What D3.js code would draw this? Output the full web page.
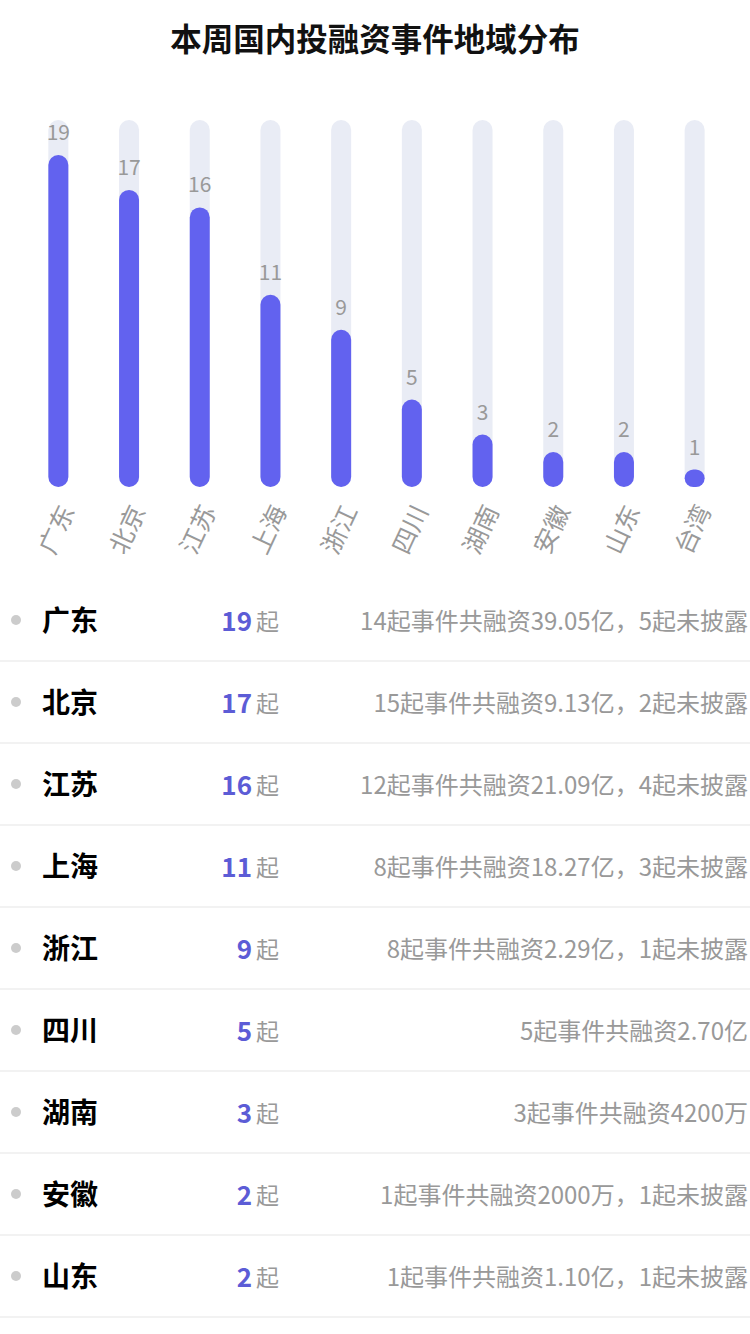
<!DOCTYPE html>
<html>
<head>
<meta charset="utf-8">
<script src="https://cdn.jsdelivr.net/npm/d3@7/dist/d3.min.js"></script>
<style>
  html, body { margin: 0; padding: 0; background: #fff; }
  body { width: 750px; height: 1334px; overflow: hidden; font-family: "Noto Sans CJK SC", "Noto Sans", sans-serif; }
</style>
</head>
<body>
<div id="chart"></div>
<script>
// 地区与事件数
const regions = ['广东', '北京', '江苏', '上海', '浙江', '四川', '湖南', '安徽', '山东', '台湾'];
const counts = [19, 17, 16, 11, 9, 5, 3, 2, 2, 1];
// 表格说明（可见的 9 行）
const details = [
  '14起事件共融资39.05亿，5起未披露',
  '15起事件共融资9.13亿，2起未披露',
  '12起事件共融资21.09亿，4起未披露',
  '8起事件共融资18.27亿，3起未披露',
  '8起事件共融资2.29亿，1起未披露',
  '5起事件共融资2.70亿',
  '3起事件共融资4200万',
  '1起事件共融资2000万，1起未披露',
  '1起事件共融资1.10亿，1起未披露'
];
const yMax = 21;

const W = 750, H = 1334;
const svg = d3.select('#chart').append('svg')
  .attr('width', W).attr('height', H);

// 标题
svg.append('text')
  .attr('x', W / 2).attr('y', 51)
  .attr('text-anchor', 'middle')
  .style('font-size', '31.5px').style('font-weight', '700').style('fill', '#111')
  .text('本周国内投融资事件地域分布');

// ---- 柱状图 ----
const x = d3.scaleBand().domain(regions).range([23, 730]);
const y = d3.scaleLinear().domain([0, yMax]).range([487, 120]);
const barW = 20;
const data = regions.map((r, i) => ({ region: r, value: counts[i] }));

const g = svg.append('g');

// 背景轨道
g.selectAll('.track').data(data).enter().append('rect')
  .attr('x', d => x(d.region) + x.bandwidth() / 2 - barW / 2)
  .attr('y', y(yMax))
  .attr('width', barW)
  .attr('height', y(0) - y(yMax))
  .attr('rx', barW / 2)
  .attr('fill', '#e9ecf5');

// 数值柱
g.selectAll('.bar').data(data).enter().append('rect')
  .attr('x', d => x(d.region) + x.bandwidth() / 2 - barW / 2)
  .attr('y', d => y(d.value))
  .attr('width', barW)
  .attr('height', d => y(0) - y(d.value))
  .attr('rx', d => Math.min(barW / 2, (y(0) - y(d.value)) / 2))
  .attr('fill', '#6262ef');

// 数值标签
g.selectAll('.val').data(data).enter().append('text')
  .attr('x', d => x(d.region) + x.bandwidth() / 2)
  .attr('y', d => y(d.value) - 15)
  .attr('text-anchor', 'middle')
  .style('font-size', '21px').style('fill', '#999')
  .text(d => d.value);

// 类目标签（旋转）
g.selectAll('.cat').data(data).enter().append('text')
  .attr('transform', d => `translate(${x(d.region) + x.bandwidth() / 2 + 7},506) rotate(-65)`)
  .attr('text-anchor', 'end')
  .attr('dominant-baseline', 'central')
  .style('font-size', '25px').style('fill', '#999')
  .text(d => d.region);

// ---- 表格 ----
const rowTop = 579, rowH = 82;
const rows = svg.append('g').selectAll('.row')
  .data(details.map((t, i) => ({ region: regions[i], value: counts[i], text: t })))
  .enter().append('g')
  .attr('transform', (d, i) => `translate(0,${rowTop + i * rowH})`);

rows.append('circle')
  .attr('cx', 16).attr('cy', rowH / 2).attr('r', 5)
  .attr('fill', '#cccccc');

rows.append('text')
  .attr('x', 42).attr('y', rowH / 2 - 1)
  .attr('dominant-baseline', 'central')
  .style('font-size', '28px').style('font-weight', '700').style('fill', '#000')
  .text(d => d.region);

rows.append('text')
  .attr('x', 252).attr('y', rowH / 2 - 1)
  .attr('text-anchor', 'end')
  .attr('dominant-baseline', 'central')
  .style('font-size', '26px').style('font-weight', '700').style('fill', '#5c5cd6')
  .text(d => d.value);

rows.append('text')
  .attr('x', 256).attr('y', rowH / 2)
  .attr('dominant-baseline', 'central')
  .style('font-size', '23px').style('fill', '#999')
  .text('起');

rows.append('text')
  .attr('x', 748).attr('y', rowH / 2 - 1)
  .attr('text-anchor', 'end')
  .attr('dominant-baseline', 'central')
  .style('font-size', '24px').style('fill', '#999')
  .text(d => d.text);

rows.append('line')
  .attr('x1', 0).attr('x2', W)
  .attr('y1', rowH).attr('y2', rowH)
  .attr('stroke', '#eeeeee').attr('stroke-width', 1.5);
</script>
</body>
</html>
